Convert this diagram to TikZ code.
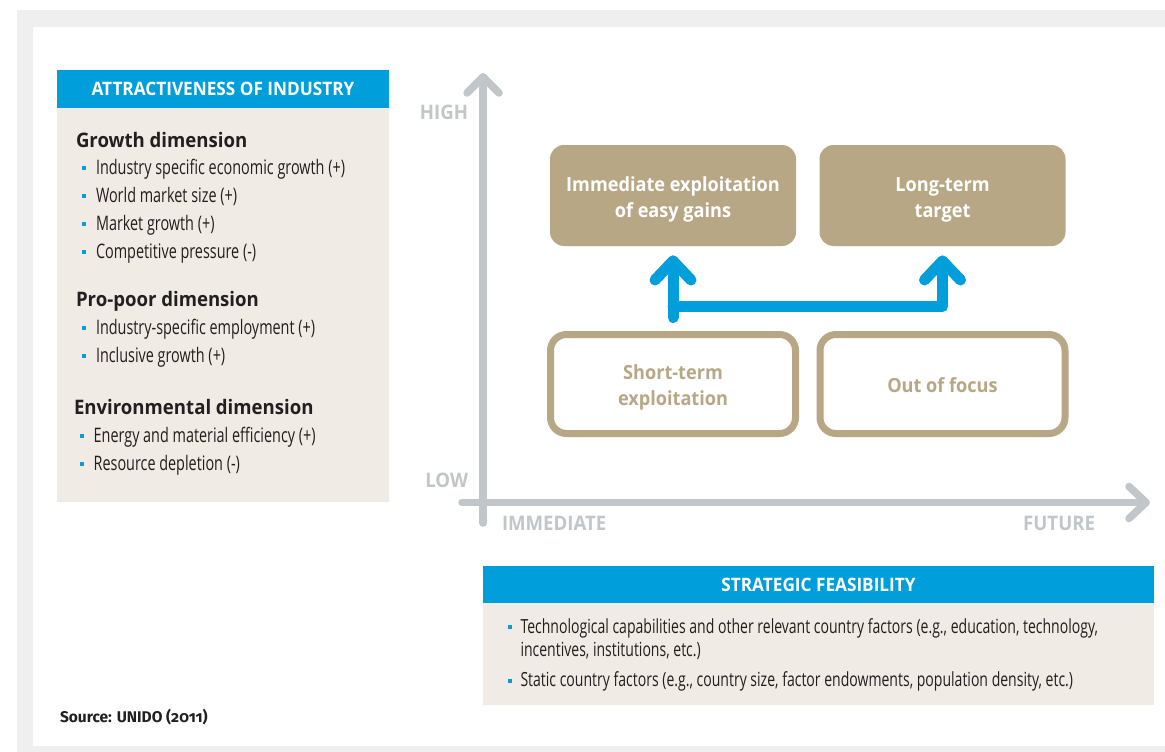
\documentclass[tikz,border=0pt]{standalone}
\usepackage{fontspec}
\usetikzlibrary{calc}
\setmainfont{Open Sans}
\newfontfamily\hdfont{Open Sans}[FakeStretch=0.93]
\newfontfamily\cdfont{Open Sans}[FakeStretch=0.72]
\newfontfamily\srcfont{Fira Sans}[Numbers=OldStyle]
\definecolor{blueC}{RGB}{0,158,219}
\definecolor{beigeC}{RGB}{240,235,228}
\definecolor{tanC}{RGB}{184,167,133}
\definecolor{axisC}{RGB}{192,198,201}
\definecolor{frameC}{RGB}{239,239,239}
\definecolor{inkC}{RGB}{35,31,32}
\newcommand\myitem[2][10pt]{\textcolor{blueC}{\raisebox{4pt}{\rule{4pt}{4pt}}}\hspace{#1}#2}
\begin{document}
\begin{tikzpicture}[x=1pt,y=-1pt,
  fillbox/.style={fill=tanC, rounded corners=14pt, minimum width=246pt, minimum height=101pt,
    inner sep=0pt, outer sep=0pt},
  linebox/.style={draw=tanC, line width=7pt, fill=white, rounded corners=16pt, minimum width=245pt,
    minimum height=99pt, inner sep=0pt, outer sep=0pt},
  boxtxt/.style={inner sep=0pt, outer sep=0pt, align=center,
    font=\hdfont\bfseries\fontsize{19.5}{26}\selectfont},
  hdr/.style={fill=blueC, inner sep=0pt, outer sep=0pt, text=white,
    font=\hdfont\bfseries\fontsize{18.5}{18.5}\selectfont},
  txt/.style={anchor=base west, inner sep=0pt, outer sep=0pt, text=inkC},
  headfont/.style={font=\hdfont\bfseries\fontsize{20}{20}\selectfont},
  itemfont/.style={font=\cdfont\fontsize{20}{20}\selectfont},
  fitemfont/.style={font=\cdfont\fontsize{19.5}{19.5}\selectfont},
  axislbl/.style={inner sep=0pt, outer sep=0pt, text=axisC,
    font=\hdfont\bfseries\fontsize{20}{20}\selectfont},
  axisline/.style={draw=axisC, line width=7.5pt, line cap=round, line join=round},
  bluearrow/.style={draw=blueC, line width=11pt, line cap=round, line join=round},
]
\useasboundingbox (0,0) rectangle (1165,752);
% frame
\fill[white] (0,0) rectangle (1165,752);
\fill[frameC] (17,10) rectangle (1165,752);
\fill[white] (33,27) rectangle (1165,746);

% left panel
\fill[beigeC] (57,108) rectangle (389,502);
\node[hdr, minimum width=332pt, minimum height=38pt] (ah) at (223,89) {ATTRACTIVENESS OF INDUSTRY};
\node[txt, headfont] (gd) at (76,147) {Growth dimension};
\node[txt, itemfont] (g1) at (82,174) {\myitem{Industry specific economic growth (+)}};
\node[txt, itemfont] (g2) at (82,202) {\myitem{World market size (+)}};
\node[txt, itemfont] (g3) at (82,230) {\myitem{Market growth (+)}};
\node[txt, itemfont] (g4) at (82,258) {\myitem{Competitive pressure (-)}};
\node[txt, headfont] (pd) at (76,306.5) {Pro-poor dimension};
\node[txt, itemfont] (p1) at (82,334) {\myitem{Industry-specific employment (+)}};
\node[txt, itemfont] (p2) at (82,362) {\myitem{Inclusive growth (+)}};
\node[txt, headfont] (ed) at (74,414) {Environmental dimension};
\node[txt, itemfont] (e1) at (80,442) {\myitem[9.7pt]{Energy and material efficiency (+)}};
\node[txt, itemfont] (e2) at (80,470) {\myitem[9.7pt]{Resource depletion (-)}};

% axes
\coordinate (ytop) at (483,77);
\coordinate (ybot) at (483,523);
\coordinate (xleft) at (462,502.5);
\coordinate (xright) at (1146,502.5);
\draw[axisline] (ybot) -- (ytop);
\draw[axisline] ($(ytop)+(-16,16)$) -- (ytop) -- ($(ytop)+(16,16)$);
\draw[axisline] (xleft) -- (xright);
\draw[axisline] ($(xright)+(-17,-16)$) -- (xright) -- ($(xright)+(-17,16)$);
\node[axislbl, anchor=base east] (hi) at (468,119) {HIGH};
\node[axislbl, anchor=base east] (lo) at (468,487) {LOW};
\node[axislbl, anchor=base west] (im) at (502,530) {IMMEDIATE};
\node[axislbl, anchor=base east] (fu) at (1095,530) {FUTURE};

% boxes
\node[fillbox, label={[boxtxt, text=white, yshift=-4pt]center:Immediate exploitation\\of easy gains}] (ie) at (673,195.5) {};
\node[fillbox, label={[boxtxt, text=white, yshift=-4pt]center:Long-term\\target}] (lt) at (942.5,195.5) {};
\node[linebox, label={[boxtxt, text=tanC, yshift=-3.5pt]center:Short-term\\exploitation}] (ste) at (673,384) {};
\node[linebox, label={[boxtxt, text=tanC, yshift=-1pt]center:Out of focus}] (oof) at (942.5,384) {};

% blue arrows
\coordinate (b0) at ($(ste.north)+(0,-17)$);
\coordinate (t1) at ($(ie.south)+(0,15)$);
\coordinate (t2) at ($(lt.south)+(0,15)$);
\coordinate (h0) at ($(b0)+(0,-11)$);
\draw[bluearrow] (b0) -- (t1);
\draw[bluearrow] ($(t1)+(-18,19)$) -- (t1) -- ($(t1)+(18,19)$);
\draw[bluearrow] (h0) -- (h0 -| t2) -- (t2);
\draw[bluearrow] ($(t2)+(-18,19)$) -- (t2) -- ($(t2)+(18,19)$);

% feasibility panel
\fill[beigeC] (483,603) rectangle (1154,705);
\node[hdr, minimum width=671pt, minimum height=37pt] (sf) at (818.5,584.5) {STRATEGIC FEASIBILITY};
\node[txt, fitemfont] (f1) at (507.5,633) {\myitem[9pt]{Technological capabilities and other relevant country factors (e.g., education, technology,}};
\node[txt, fitemfont] (f1b) at (520.5,656) {incentives, institutions, etc.)};
\node[txt, fitemfont] (f2) at (507.5,686.5) {\myitem[9pt]{Static country factors (e.g., country size, factor endowments, population density, etc.)}};

% source
\node[txt, font=\srcfont\bfseries\fontsize{15.5}{15.5}\selectfont] (src) at (60,722) {Source: UNIDO (2011)};
\end{tikzpicture}
\end{document}
